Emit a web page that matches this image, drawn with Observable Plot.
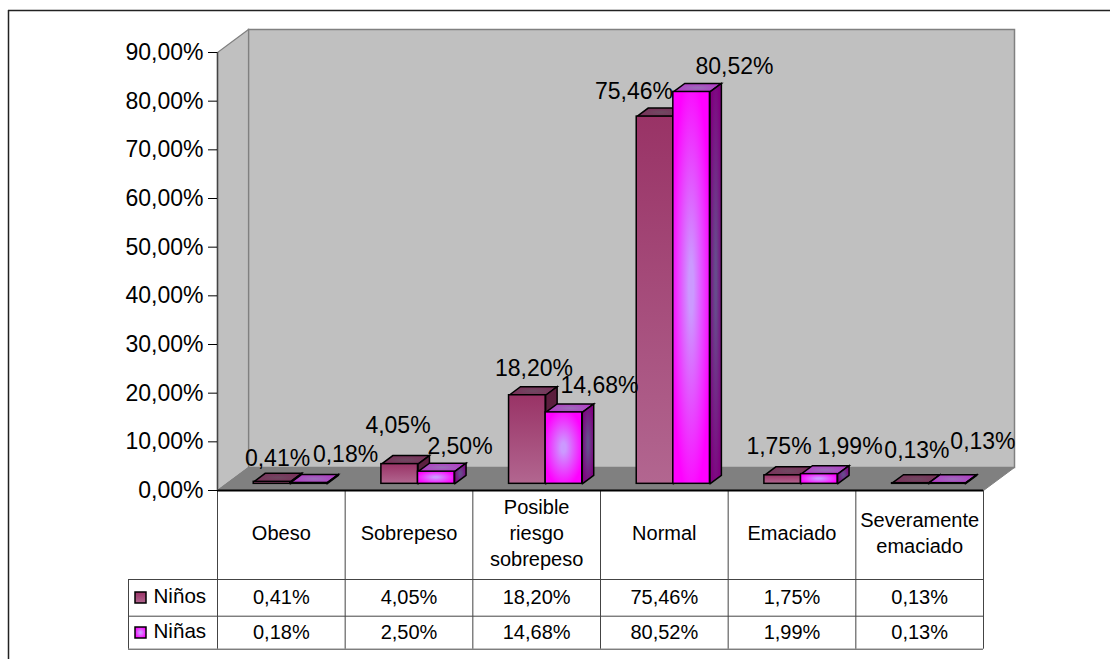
<!DOCTYPE html>
<html lang="es">
<head>
<meta charset="utf-8">
<script src="https://cdn.jsdelivr.net/npm/d3@7"></script>
<script src="https://cdn.jsdelivr.net/npm/@observablehq/plot@0.6"></script>
<style>
  html, body { margin: 0; padding: 0; background: #fff; }
  svg { display: block; }
</style>
</head>
<body>
<div id="chart"></div>
<script>
// Estado nutricional por sexo, porcentajes de cada categoría
const categories = ["Obeso", "Sobrepeso", "Posible\nriesgo\nsobrepeso", "Normal", "Emaciado", "Severamente\nemaciado"];
const ninos = [0.41, 4.05, 18.20, 75.46, 1.75, 0.13];
const ninas = [0.18, 2.50, 14.68, 80.52, 1.99, 0.13];
const yTicks = [0, 10, 20, 30, 40, 50, 60, 70, 80, 90];

// Ajuste manual de cada rótulo de dato respecto a su barra, en píxeles (x a la derecha, y hacia arriba)
const ninosLabelDx = [5.5, -1.7, 6.6, -21, -3.7, 6.6];
const ninosLabelDy = [16, 31, 19.4, 17.7, 21.5, 24.7];
const ninasLabelDx = [36.9, 23.7, 35.5, 42.9, 30.7, 36];
const ninasLabelDy = [21.4, 17.8, 19.6, 18.1, 20.3, 34.4];

// Escalas: una columna de la tabla mide 127.67 px y un punto porcentual 4.867 px
const W = 1110, H = 659;
const plotLeft = 217, plotRight = 983, plotTop = 52, plotFloor = 490;
const pxX = (plotRight - plotLeft) / categories.length;
const pxY = (plotFloor - plotTop) / 90;
const ux = (p) => p / pxX;
const uy = (p) => p / pxY;

// Proyección oblicua: d = 0 plano frontal, d = 1 pared del fondo
const depthX = 31, depthY = 23;
const P = (x, v, d) => [x + ux(d * depthX), v + uy(d * depthY)];

const barFront = 0.29, barBack = 0.66;
const barWidth = ux(36.6);

const fmt = (v) => v.toFixed(2).replace(".", ",") + "%";

const barsOf = (values, shift) => values.map((v, i) => ({i, v, x: i + 0.5 + shift}));

const poly = (pts, id) => [...pts, pts[0]].map(([x, y]) => ({x, y, id}));

function topFaces(bars) {
  return bars.flatMap((b) => poly([
    P(b.x, b.v, barFront), P(b.x + barWidth, b.v, barFront),
    P(b.x + barWidth, b.v, barBack), P(b.x, b.v, barBack)
  ], b.i));
}
function sideFaces(bars) {
  return bars.flatMap((b) => poly([
    P(b.x + barWidth, 0, barFront), P(b.x + barWidth, 0, barBack),
    P(b.x + barWidth, b.v, barBack), P(b.x + barWidth, b.v, barFront)
  ], b.i));
}
const frontRect = {
  x1: (b) => P(b.x, b.v, barFront)[0],
  x2: (b) => P(b.x + barWidth, b.v, barFront)[0],
  y1: (b) => P(b.x, 0, barFront)[1],
  y2: (b) => P(b.x, b.v, barFront)[1],
  stroke: "#000", strokeWidth: 1.5
};
const faceOpts = (fill) => ({
  x: "x", y: "y", z: "id", fill, stroke: "#000", strokeWidth: 1.5,
  strokeLinejoin: "miter", strokeMiterlimit: 4
});

const ninosBars = barsOf(ninos, -barWidth);
const ninasBars = barsOf(ninas, 0);

// Caras de la caja del gráfico
const wall = poly([P(0, 0, 1), P(6, 0, 1), P(6, 90, 1), P(0, 90, 1)], "fondo");
const sideWall = poly([P(0, 0, 0), P(0, 0, 1), P(0, 90, 1), P(0, 90, 0)], "lateral");
const ground = poly([P(0, 0, 0), P(6, 0, 0), P(6, 0, 1), P(0, 0, 1)], "suelo");

// Tabla de datos bajo el gráfico: líneas medidas desde el plano del suelo
const rowEdges = [89, 125.7, 158.7].map((p) => -uy(p));
const legendLeft = -ux(plotLeft - 128);
const colEdges = d3.range(0, categories.length + 1);
const headerMid = -uy(41.5);
const row1Mid = -uy(105.5);
const row2Mid = -uy(140.5);

function gradients() {
  const g = d3.create("svg:g");
  const defs = g.append("defs");
  const linear = (id, a, b) => {
    const l = defs.append("linearGradient").attr("id", id).attr("x1", 0).attr("y1", 0).attr("x2", 0).attr("y2", 1);
    l.append("stop").attr("offset", 0).attr("stop-color", a);
    l.append("stop").attr("offset", 1).attr("stop-color", b);
  };
  const radial = (id, c, e, r = 0.5, hold = 0) => {
    const l = defs.append("radialGradient").attr("id", id).attr("cx", 0.5).attr("cy", 0.5).attr("r", r);
    l.append("stop").attr("offset", hold).attr("stop-color", c);
    l.append("stop").attr("offset", 1).attr("stop-color", e);
  };
  linear("ninoFront", "#993366", "#B26690");
  linear("ninoSide", "#5c1c3c", "#5c2a4a");
  radial("ninoTop", "#6f4a62", "#7c2c58", 0.6);
  radial("ninaFront", "#CC99FF", "#FF00FF", 0.55, 0.12);
  radial("ninaSide", "#664c8c", "#800080", 0.55, 0.12);
  radial("ninaTop", "#9a70b8", "#b830c8", 0.6);
  return g.node();
}

const labelStyle = {fontSize: 23, fill: "#000", lineAnchor: "bottom", textAnchor: "middle"};
const labelMark = (bars, dx, dy) => Plot.text(bars, {
  x: (b) => P(b.x + barWidth / 2, b.v, barFront)[0] + ux(dx[b.i]),
  y: (b) => P(b.x, b.v, barFront)[1] + uy(dy[b.i]),
  text: (b) => fmt(b.v),
  ...labelStyle
});
const cellStyle = {fontSize: 20, fill: "#000", textAnchor: "middle", lineAnchor: "middle", lineHeight: 1.3};
const tableRow = (values, y) => Plot.text(values, {
  x: (d, i) => i + 0.5, y: () => y, text: (d) => fmt(d), ...cellStyle
});

const lineColor = "#444";
const frameTop = uy(plotFloor - 10), frameLeft = -ux(plotLeft - 8);

const chart = Plot.plot({
  width: W, height: H,
  marginLeft: plotLeft, marginRight: W - plotRight, marginTop: plotTop, marginBottom: H - plotFloor,
  x: {domain: [0, 6], axis: null},
  y: {domain: [0, 90], axis: null},
  style: {fontFamily: "'Liberation Sans', Arial, sans-serif", background: "#fff", overflow: "visible"},
  marks: [
    gradients,
    // Marco exterior: sólo borde superior e izquierdo
    Plot.ruleY([frameTop], {x1: frameLeft, x2: ux(W - plotLeft), stroke: "#222", strokeWidth: 1.5}),
    Plot.ruleX([frameLeft], {y1: frameTop, y2: -uy(H - plotFloor), stroke: "#222", strokeWidth: 1.5}),

    // Caja 3D
    Plot.line(wall, {x: "x", y: "y", z: "id", fill: "#C0C0C0", stroke: "#808080", strokeWidth: 1.5, strokeLinejoin: "miter", strokeMiterlimit: 4}),
    Plot.line(sideWall, {x: "x", y: "y", z: "id", fill: "#C0C0C0", stroke: "#808080", strokeWidth: 1.2, strokeLinejoin: "miter", strokeMiterlimit: 4}),
    Plot.line(ground, {x: "x", y: "y", z: "id", fill: "#808080", stroke: "#808080", strokeWidth: 1, strokeLinejoin: "miter", strokeMiterlimit: 4}),

    // Líneas de la tabla
    Plot.ruleX(colEdges, {y1: 0, y2: rowEdges[2], stroke: lineColor, strokeWidth: 1}),
    Plot.ruleX([legendLeft], {y1: rowEdges[0], y2: rowEdges[2], stroke: lineColor, strokeWidth: 1}),
    Plot.ruleY(rowEdges, {x1: legendLeft, x2: 6, stroke: lineColor, strokeWidth: 1}),
    Plot.ruleY([0], {x1: 0, x2: 6, stroke: "#000", strokeWidth: 2}),
    Plot.ruleX([0], {y1: 0, y2: 90, stroke: "#444", strokeWidth: 1.5}),

    // Barras: primero Niños, encima Niñas
    Plot.line(topFaces(ninosBars), faceOpts("url(#ninoTop)")),
    Plot.line(sideFaces(ninosBars), faceOpts("url(#ninoSide)")),
    Plot.rect(ninosBars, {...frontRect, fill: "url(#ninoFront)"}),
    Plot.line(topFaces(ninasBars), faceOpts("url(#ninaTop)")),
    Plot.line(sideFaces(ninasBars), faceOpts("url(#ninaSide)")),
    Plot.rect(ninasBars, {...frontRect, fill: "url(#ninaFront)"}),

    // Eje de porcentajes
    Plot.axisY({
      ticks: yTicks, tickFormat: fmt, tickSize: 9, tickPadding: 5,
      fontSize: 23, label: null, stroke: "#000"
    }),

    // Rótulos de datos
    labelMark(ninosBars, ninosLabelDx, ninosLabelDy),
    labelMark(ninasBars, ninasLabelDx, ninasLabelDy),

    // Contenido de la tabla
    Plot.text(categories, {x: (d, i) => i + 0.5, y: () => headerMid, text: (d) => d, ...cellStyle}),
    tableRow(ninos, row1Mid),
    tableRow(ninas, row2Mid),

    // Leyenda dentro de la tabla
    Plot.rect([0], {x1: -ux(82), x2: -ux(71), y1: row1Mid - uy(7.5), y2: row1Mid + uy(3.5), fill: "url(#ninoFront)", stroke: "#000", strokeWidth: 1.5}),
    Plot.rect([0], {x1: -ux(82), x2: -ux(71), y1: row2Mid - uy(7.5), y2: row2Mid + uy(3.5), fill: "url(#ninaFront)", stroke: "#000", strokeWidth: 1.5}),
    Plot.text(["Niños"], {x: () => -ux(64), y: () => row1Mid, text: (d) => d, fontSize: 20.6, fill: "#000", textAnchor: "start", lineAnchor: "middle"}),
    Plot.text(["Niñas"], {x: () => -ux(64), y: () => row2Mid, text: (d) => d, fontSize: 20.6, fill: "#000", textAnchor: "start", lineAnchor: "middle"})
  ]
});
document.getElementById("chart").appendChild(chart);
</script>
</body>
</html>
